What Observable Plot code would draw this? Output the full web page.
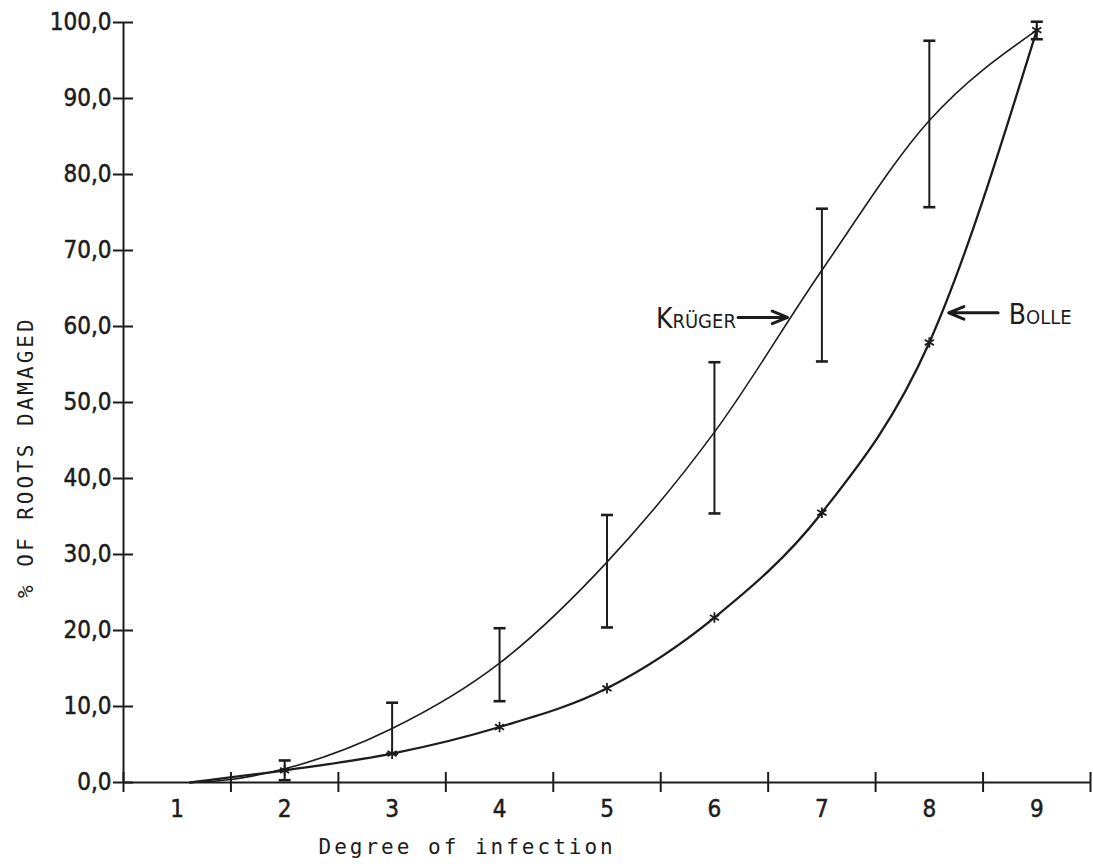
<!DOCTYPE html>
<html><head><meta charset="utf-8">
<script src="https://cdn.jsdelivr.net/npm/d3@7"></script>
<script src="https://cdn.jsdelivr.net/npm/@observablehq/plot@0.6"></script>
<style>
body{margin:0;background:#fff;}
#chart svg g[aria-label$="tick label"] text{font-stretch:condensed;stroke:currentColor;stroke-width:0.5px;}
</style></head><body><div id="chart"></div>
<script>
// ---- data ----
const degreeLabels = [1,2,3,4,5,6,7,8,9];
const degreeBoundaries = [0.5,1.5,2.5,3.5,4.5,5.5,6.5,7.5,8.5,9.5];
const yTicks = [0,10,20,30,40,50,60,70,80,90,100];

// Krüger: error bars (range) at degrees 2..9
const krugerDegrees = [2,3,4,5,6,7,8,9];
const krugerLow  = [0.3, 3.8, 10.7, 20.4, 35.4, 55.4, 75.7, 97.8];
const krugerHigh = [2.9, 10.5, 20.3, 35.2, 55.3, 75.5, 97.6, 100.1];
// Krüger fitted curve
const krugerCurveX = [1.12, 1.5, 2, 3, 4, 5, 6, 7, 8, 9];
const krugerCurveY = [0, 0.4, 1.8, 7.1, 15.7, 29.0, 46.1, 67.4, 87.1, 99.0];

// Bolle: observed points (asterisks) at degrees 2..9
const bolleDegrees = [2,3,4,5,6,7,8,9];
const bolleValues  = [1.6, 3.8, 7.3, 12.4, 21.7, 35.5, 57.9, 99.0];
const bolleCurveX = [1.12, 2, 3, 4, 5, 6, 7, 8, 9];
const bolleCurveY = [0, 1.6, 3.8, 7.3, 12.4, 21.7, 35.5, 57.9, 99.0];

const seriesNames = ["Krüger", "Bolle"];

// ---- tables built from the arrays ----
const krBars = krugerDegrees.map((x,i)=>({x, low:krugerLow[i], high:krugerHigh[i]}));
const krCaps = krBars.flatMap(d=>[{x:d.x, y:d.low},{x:d.x, y:d.high}]);
const krCurve = krugerCurveX.map((x,i)=>({x, y:krugerCurveY[i]}));
const boPts = bolleDegrees.map((x,i)=>({x, y:bolleValues[i]}));
const boCurve = bolleCurveX.map((x,i)=>({x, y:bolleCurveY[i]}));

// annotation placement
const krugerLabel = [{name: seriesNames[0], x: 6.2, y: 61.0}];
const bolleLabel  = [{name: seriesNames[1], x: 8.74, y: 61.5}];
const arrows = [
  {x1: 6.22, y1: 61.2, x2: 6.68, y2: 61.2},
  {x1: 8.64, y1: 61.8, x2: 8.18, y2: 61.8}
];

const ink = "#1c1c1c";
const tickFont = "'DejaVu Sans Condensed', 'DejaVu Sans', sans-serif";
const monoFont = "'DejaVu Sans Mono', monospace";

const capSymbol = {
  draw(context, size) {
    const r = Math.sqrt(size / Math.PI);
    context.moveTo(-r, 0);
    context.lineTo(r, 0);
  }
};

const chart = Plot.plot({
  width: 1093,
  height: 868,
  marginLeft: 123,
  marginRight: 3,
  marginTop: 22,
  marginBottom: 86,
  x: {domain: [0.5, 9.5]},
  y: {domain: [0, 100]},
  style: {background: "white", color: ink, fontFamily: tickFont, overflow: "visible"},
  marks: [
    Plot.ruleY([0], {x1: 0.5, x2: 9.5, stroke: ink, strokeWidth: 2}),
    Plot.ruleX([0.5], {y1: 0, y2: 100, stroke: ink, strokeWidth: 2}),
    Plot.axisY(yTicks, {
      tickSize: 20, dx: 10, tickPadding: 2, strokeWidth: 2,
      tickFormat: d => d.toFixed(1).replace(".", ","),
      fontSize: 24, fontFamily: tickFont, label: null
    }),
    Plot.axisX(degreeBoundaries, {
      tickSize: 20, dy: -10, strokeWidth: 2, tickFormat: () => "", label: null
    }),
    Plot.axisX(degreeLabels, {
      tickSize: 0, tickPadding: 17, fontSize: 24, fontFamily: tickFont, label: null
    }),
    // Krüger
    Plot.line(krCurve, {x: "x", y: "y", curve: "monotone-x", stroke: ink, strokeWidth: 1.6}),
    Plot.ruleX(krBars, {x: "x", y1: "low", y2: "high", stroke: ink, strokeWidth: 2}),
    Plot.dot(krCaps, {x: "x", y: "y", symbol: capSymbol, r: 6, stroke: ink, strokeWidth: 2.6}),
    // Bolle
    Plot.line(boCurve, {x: "x", y: "y", curve: "monotone-x", stroke: ink, strokeWidth: 2.3}),
    Plot.dot(boPts, {x: "x", y: "y", symbol: "asterisk", r: 5, stroke: ink, strokeWidth: 1.8}),
    // annotations
    Plot.text(krugerLabel, {x: "x", y: "y", text: "name", textAnchor: "end", fontSize: 28,
      fontVariant: "small-caps", fontFamily: tickFont, fill: ink}),
    Plot.text(bolleLabel, {x: "x", y: "y", text: "name", textAnchor: "start", fontSize: 28,
      fontVariant: "small-caps", fontFamily: tickFont, fill: ink}),
    Plot.arrow(arrows, {x1: "x1", y1: "y1", x2: "x2", y2: "y2", headLength: 13, headAngle: 45,
      stroke: ink, strokeWidth: 3}),
    // axis titles
    Plot.text(["Degree of infection"], {x: () => 2.315, frameAnchor: "bottom", dy: 71,
      textAnchor: "start", fontSize: 21, fontFamily: monoFont, fill: ink}),
    Plot.text(["% OF ROOTS DAMAGED"], {y: () => 42.8, frameAnchor: "left", dx: -97.5,
      textAnchor: "middle", rotate: -90, fontSize: 21, fontFamily: monoFont, fill: ink})
  ]
});
document.getElementById("chart").append(chart);
// letter spacing for the typewriter-like axis titles
chart.querySelectorAll("text").forEach(t => {
  if (t.textContent === "Degree of infection" || t.textContent === "% OF ROOTS DAMAGED") {
    t.setAttribute("letter-spacing", "3");
  }
});
</script></body></html>
